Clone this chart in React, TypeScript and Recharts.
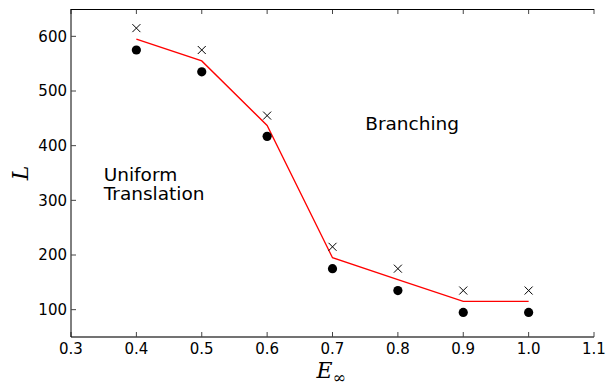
import React from 'react';
import { ComposedChart, Line, Scatter, XAxis, YAxis, ReferenceDot } from 'recharts';

const eInf = [0.4, 0.5, 0.6, 0.7, 0.8, 0.9, 1.0];
const fitL = [595, 555, 437, 195, 155, 115, 115];
const crossL = [615, 575, 455, 215, 175, 135, 135];
const dotL = [575, 535, 417, 175, 135, 95, 95];
const xTicks = [0.3, 0.4, 0.5, 0.6, 0.7, 0.8, 0.9, 1.0, 1.1];
const yTicks = [100, 200, 300, 400, 500, 600];
const xDomain = [0.3, 1.1];
const yDomain = [50, 650];

const data = eInf.map((e, i) => ({ e, fit: fitL[i], cross: crossL[i], dot: dotL[i] }));

const FONT = '"DejaVu Sans", sans-serif';
const SERIF = '"DejaVu Serif", serif';
const TOP = 9;
const LEFT = 71;
const RIGHT = 14;
const W = 608;

const CrossShape = (props: any) => {
  const { cx, cy } = props;
  const s = 4;
  return (
    <g stroke="#000" strokeWidth={1}>
      <line x1={cx - s} y1={cy - s} x2={cx + s} y2={cy + s} />
      <line x1={cx - s} y1={cy + s} x2={cx + s} y2={cy - s} />
    </g>
  );
};

const DotShape = (props: any) => {
  const { cx, cy } = props;
  return <circle cx={cx} cy={cy} r={4.6} fill="#000" />;
};

const textLabel = (lines: string[]) => (props: any) => {
  const vb = props.viewBox || {};
  const x = vb.x ?? 0;
  const y = vb.y ?? 0;
  const n = lines.length;
  return (
    <text x={x} y={y} fontFamily={FONT} fontSize={18.5} fill="#000">
      {lines.map((l, i) => (
        <tspan key={i} x={x} y={y - (n - 1 - i) * 19}>{l}</tspan>
      ))}
    </text>
  );
};

const YLabel = (props: any) => {
  const vb = props.viewBox || {};
  const x = (vb.x ?? 0) + 28;
  const y = (vb.y ?? 0) + (vb.height ?? 0) / 2;
  return (
    <text x={x} y={y} transform={`rotate(-90, ${x}, ${y})`} textAnchor="middle" fontFamily={SERIF} fontStyle="italic" fontSize={22} fill="#000">L</text>
  );
};

const RightFrame = (props: any) => {
  const vb = props.viewBox || {};
  const x0 = vb.x ?? 0;
  const y0 = vb.y ?? 0;
  const h = vb.height ?? 0;
  return (
    <g stroke="#444" strokeWidth={1}>
      {yTicks.map((t) => {
        const y = y0 + ((yDomain[1] - t) / (yDomain[1] - yDomain[0])) * h;
        return <line key={t} x1={x0 - 5} y1={y} x2={x0} y2={y} />;
      })}
    </g>
  );
};

const XLabel = (props: any) => {
  const vb = props.viewBox || {};
  const x0 = vb.x ?? 0;
  const w = vb.width ?? 0;
  const x = x0 + w / 2;
  const y = (vb.y ?? 0) + 41;
  return (
    <g>
      <g stroke="#444" strokeWidth={1}>
        {xTicks.map((t) => {
          const tx = x0 + ((t - xDomain[0]) / (xDomain[1] - xDomain[0])) * w;
          return <line key={t} x1={tx} y1={TOP} x2={tx} y2={TOP + 5} />;
        })}
      </g>
      <text x={x - 16} y={y} fontFamily={SERIF} fill="#000">
        <tspan fontStyle="italic" fontSize={22}>E</tspan>
        <tspan dy={5} fontSize={16}>∞</tspan>
      </text>
    </g>
  );
};

export default function App() {
  return (
    <div style={{ position: 'absolute', left: 0, top: 0, width: W, height: 382, background: '#fff' }}>
      <ComposedChart width={W} height={382} data={data} margin={{ top: TOP, right: RIGHT, left: 0, bottom: 0 }}>
        <XAxis
          xAxisId="b"
          dataKey="e"
          type="number"
          domain={xDomain}
          ticks={xTicks}
          tickFormatter={(v: number) => v.toFixed(1)}
          height={45}
          tickSize={-5}
          tickMargin={11}
          axisLine={{ stroke: '#444', strokeWidth: 1.5 }}
          tickLine={{ stroke: '#444' }}
          tick={{ fill: '#000', fontFamily: FONT, fontSize: 15 }}
          label={<XLabel />}
        />
        <YAxis
          yAxisId="l"
          type="number"
          domain={yDomain}
          ticks={yTicks}
          width={LEFT}
          tickSize={-5}
          tickMargin={9}
          axisLine={{ stroke: '#000', strokeWidth: 1 }}
          tickLine={{ stroke: '#444' }}
          tick={{ fill: '#000', fontFamily: FONT, fontSize: 15 }}
          label={<YLabel />}
        />
        <YAxis
          yAxisId="r"
          type="number"
          orientation="right"
          domain={yDomain}
          ticks={yTicks}
          width={0}
          tickSize={-5}
          tickFormatter={() => ''}
          axisLine={{ stroke: '#555', strokeWidth: 2 }}
          tickLine={{ stroke: '#444' }}
          label={<RightFrame />}
        />
        <Line xAxisId="b" yAxisId="l" dataKey="fit" type="linear" stroke="#ff0000" strokeWidth={1.3} dot={false} isAnimationActive={false} />
        <Scatter xAxisId="b" yAxisId="l" dataKey="cross" shape={<CrossShape />} isAnimationActive={false} />
        <Scatter xAxisId="b" yAxisId="l" dataKey="dot" shape={<DotShape />} isAnimationActive={false} />
        <ReferenceDot xAxisId="b" yAxisId="l" x={0.35} y={300} r={0} stroke="none" label={{ content: textLabel(['Uniform', 'Translation']) } as any} />
        <ReferenceDot xAxisId="b" yAxisId="l" x={0.75} y={428} r={0} stroke="none" label={{ content: textLabel(['Branching']) } as any} />
      </ComposedChart>
      <div
        style={{
          position: 'absolute',
          left: LEFT,
          top: TOP,
          width: W - LEFT - RIGHT,
          height: 0,
          borderTop: '1px solid #000',
          pointerEvents: 'none',
          zIndex: 10,
        }}
      />
    </div>
  );
}
